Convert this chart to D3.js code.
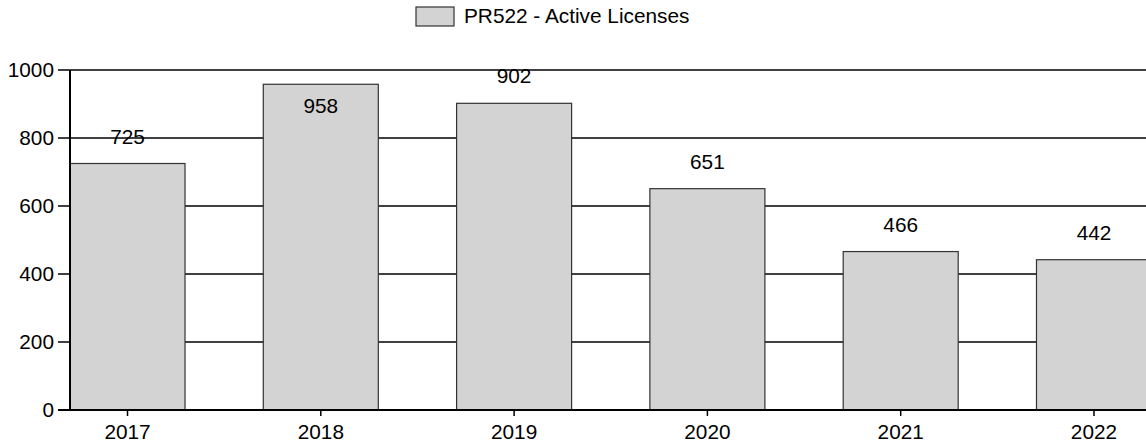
<!DOCTYPE html>
<html>
<head>
<meta charset="utf-8">
<script src="https://cdn.jsdelivr.net/npm/d3@7"></script>
<style>
  body { margin: 0; background: #fff; }
  svg { display: block; font-family: "Liberation Sans", Arial, sans-serif; }
</style>
</head>
<body>
<svg id="chart" width="1146" height="445"></svg>
<script>
// data
var years = ['2017', '2018', '2019', '2020', '2021', '2022'];
var licenses = [725, 958, 902, 651, 466, 442];
var yTicks = [0, 200, 400, 600, 800, 1000];
var seriesName = 'PR522 - Active Licenses';

var svg = d3.select('#chart');
var plotLeft = 70, plotTop = 70, plotBottom = 410;
var fs = 20.8;

var x = d3.scaleBand()
  .domain(years)
  .range([plotLeft, 1151.5])
  .paddingInner(0.405)
  .paddingOuter(0)
  .align(0);

var y = d3.scaleLinear().domain([0, 1000]).range([plotBottom, plotTop]);

// grid lines (behind bars)
svg.append('g').selectAll('line')
  .data(yTicks)
  .enter().append('line')
  .attr('x1', plotLeft - 12).attr('x2', 1146)
  .attr('y1', function(d) { return y(d); })
  .attr('y2', function(d) { return y(d); })
  .attr('stroke', '#000')
  .attr('stroke-width', 1.5);

// y labels
svg.append('g').selectAll('text')
  .data(yTicks)
  .enter().append('text')
  .attr('x', plotLeft - 16)
  .attr('y', function(d) { return y(d); })
  .attr('dy', '0.35em')
  .attr('text-anchor', 'end')
  .attr('font-size', fs)
  .text(function(d) { return d; });

// bars
var data = years.map(function(yr, i) { return { year: yr, value: licenses[i] }; });

svg.append('g').selectAll('rect')
  .data(data)
  .enter().append('rect')
  .attr('x', function(d) { return x(d.year); })
  .attr('y', function(d) { return y(d.value); })
  .attr('width', x.bandwidth())
  .attr('height', function(d) { return plotBottom - y(d.value); })
  .attr('fill', '#d3d3d3')
  .attr('stroke', '#333')
  .attr('stroke-width', 1.2);

// axis lines
svg.append('line')
  .attr('x1', plotLeft).attr('x2', plotLeft)
  .attr('y1', plotTop).attr('y2', plotBottom)
  .attr('stroke', '#000').attr('stroke-width', 2);
svg.append('line')
  .attr('x1', plotLeft - 12).attr('x2', 1146)
  .attr('y1', plotBottom).attr('y2', plotBottom)
  .attr('stroke', '#000').attr('stroke-width', 2);

// x ticks + labels
var xt = svg.append('g').selectAll('g')
  .data(years)
  .enter().append('g')
  .attr('transform', function(d) { return 'translate(' + (x(d) + x.bandwidth() / 2) + ',0)'; });
xt.append('line')
  .attr('y1', plotBottom).attr('y2', plotBottom + 6)
  .attr('stroke', '#000').attr('stroke-width', 1.5);
xt.append('text')
  .attr('y', plotBottom + 29)
  .attr('text-anchor', 'middle')
  .attr('font-size', fs)
  .text(function(d) { return d; });

// value labels: above the bar, or inside when it would go over the top line
svg.append('g').selectAll('text')
  .data(data)
  .enter().append('text')
  .attr('x', function(d) { return x(d.year) + x.bandwidth() / 2; })
  .attr('y', function(d) {
    var t = y(d.value);
    return (t - 20 < plotTop) ? t + 29 : t - 20;
  })
  .attr('text-anchor', 'middle')
  .attr('font-size', fs)
  .text(function(d) { return d.value; });

// legend
svg.append('rect')
  .attr('x', 416).attr('y', 7)
  .attr('width', 38).attr('height', 19)
  .attr('fill', '#d3d3d3')
  .attr('stroke', '#333')
  .attr('stroke-width', 1.2);
svg.append('text')
  .attr('x', 464).attr('y', 23)
  .attr('font-size', fs)
  .text(seriesName);
</script>
</body>
</html>
